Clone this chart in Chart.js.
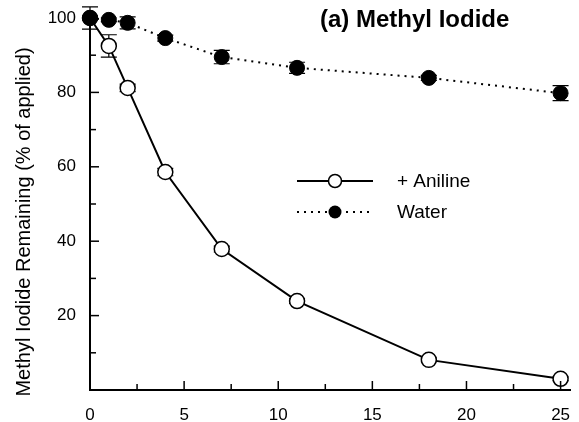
<!DOCTYPE html>
<html>
<head>
<meta charset="utf-8">
<script src="https://cdn.jsdelivr.net/npm/chart.js@4/dist/chart.umd.min.js"></script>
<style>
  html, body { margin: 0; padding: 0; background: #fff; }
  #wrap { width: 579px; height: 422px; position: relative; }
</style>
</head>
<body>
<div id="wrap"><canvas id="chart"></canvas></div>
<script>
// days after application
var days = [0, 1, 2, 4, 7, 11, 18, 25];
// % of applied remaining
var aniline = [100, 92.5, 81.2, 58.6, 37.9, 23.9, 8.1, 3.0];
var water = [100, 99.5, 98.7, 94.6, 89.5, 86.6, 83.9, 79.8];
// error bar half widths
var anilineErr = [3, 3, 1, 1, 0.8, 0.6, 0.5, 0.5];
var waterErr = [0.5, 0.5, 1.6, 0.8, 1.8, 1.5, 0.7, 2];
var xLabels = [0, 5, 10, 15, 20, 25];
var yLabels = [20, 40, 60, 80, 100];

var FONT = "'Liberation Sans', Arial, sans-serif";

function pts(ys) {
  return days.map(function(d, i) { return {x: d, y: ys[i]}; });
}

// error bars, inward ticks, legend, titles
var extras = {
  id: 'extras',
  beforeDatasetsDraw: function(chart) {
    var ctx = chart.ctx, xs = chart.scales.x, ys = chart.scales.y;
    ctx.save();
    ctx.strokeStyle = '#000';
    ctx.lineWidth = 1.2;
    function bars(vals, errs) {
      vals.forEach(function(v, i) {
        var px = xs.getPixelForValue(days[i]);
        var hi = ys.getPixelForValue(v + errs[i]);
        var lo = ys.getPixelForValue(v - errs[i]);
        ctx.beginPath();
        ctx.moveTo(px, hi); ctx.lineTo(px, lo);
        ctx.moveTo(px - 8, hi); ctx.lineTo(px + 8, hi);
        ctx.moveTo(px - 8, lo); ctx.lineTo(px + 8, lo);
        ctx.stroke();
      });
    }
    bars(aniline, anilineErr);
    bars(water, waterErr);
    ctx.restore();
  },
  afterDraw: function(chart) {
    var ctx = chart.ctx, xs = chart.scales.x, ys = chart.scales.y;
    ctx.save();
    ctx.strokeStyle = '#000';
    ctx.lineWidth = 1.5;
    // ticks pointing into the plot
    var bottom = ys.getPixelForValue(0), left = xs.getPixelForValue(0);
    for (var v = 2.5; v <= 25; v += 2.5) {
      var px = xs.getPixelForValue(v);
      var len = (v % 5 === 0) ? 9 : 6;
      ctx.beginPath(); ctx.moveTo(px, bottom); ctx.lineTo(px, bottom - len); ctx.stroke();
    }
    for (var w = 10; w <= 90; w += 10) {
      var py = ys.getPixelForValue(w);
      var l2 = (w % 20 === 0) ? 9 : 6;
      ctx.beginPath(); ctx.moveTo(left, py); ctx.lineTo(left + l2, py); ctx.stroke();
    }
    // y axis title
    ctx.fillStyle = '#000';
    ctx.save();
    ctx.translate(24, 222);
    ctx.rotate(-Math.PI / 2);
    ctx.font = '20px ' + FONT;
    ctx.textAlign = 'center';
    ctx.textBaseline = 'middle';
    ctx.fillText('Methyl Iodide Remaining (% of applied)', 0, 0);
    ctx.restore();
    // panel title
    ctx.font = 'bold 24px ' + FONT;
    ctx.textBaseline = 'middle';
    ctx.textAlign = 'left';
    ctx.fillText('(a) Methyl Iodide', 320, 20);
    // legend
    ctx.lineWidth = 2;
    ctx.beginPath(); ctx.moveTo(297, 181); ctx.lineTo(373, 181); ctx.stroke();
    ctx.beginPath(); ctx.arc(335, 181, 6.5, 0, Math.PI * 2);
    ctx.fillStyle = '#fff'; ctx.fill();
    ctx.lineWidth = 1.5; ctx.stroke();
    ctx.setLineDash([2, 5]);
    ctx.lineWidth = 2;
    ctx.beginPath(); ctx.moveTo(297, 212); ctx.lineTo(373, 212); ctx.stroke();
    ctx.setLineDash([]);
    ctx.beginPath(); ctx.arc(335, 212, 6.5, 0, Math.PI * 2);
    ctx.fillStyle = '#000'; ctx.fill();
    ctx.font = '19px ' + FONT;
    ctx.fillText('+ Aniline', 397, 182);
    ctx.fillText('Water', 397, 213);
    ctx.restore();
  }
};

new Chart(document.getElementById('chart'), {
  type: 'scatter',
  data: {
    datasets: [{
      label: 'Water',
      data: pts(water),
      showLine: true,
      borderColor: '#000',
      borderWidth: 2,
      borderDash: [2, 5],
      pointRadius: 7.5,
      pointBorderWidth: 1,
      pointBackgroundColor: '#000',
      pointBorderColor: '#000',
      clip: false
    }, {
      label: '+ Aniline',
      data: pts(aniline),
      showLine: true,
      borderColor: '#000',
      borderWidth: 2,
      pointRadius: 7.5,
      pointBorderWidth: 1.5,
      pointBackgroundColor: '#fff',
      pointBorderColor: '#000',
      clip: false
    }]
  },
  options: {
    responsive: true,
    maintainAspectRatio: false,
    animation: false,
    layout: { padding: { top: 18, right: 2, left: 0, bottom: 0 } },
    plugins: { legend: { display: false }, tooltip: { enabled: false } },
    scales: {
      x: {
        type: 'linear',
        min: 0, max: 25.5,
        grid: { display: false },
        border: { display: true, color: '#000', width: 2 },
        afterFit: function(s) {
          s.height = 32;
          s.paddingLeft = 0; s.paddingRight = 0;
        },
        afterBuildTicks: function(s) {
          s.ticks = xLabels.map(function(v) { return {value: v}; });
        },
        ticks: {
          color: '#000', padding: 7, maxRotation: 0,
          font: { family: FONT, size: 17 }
        }
      },
      y: {
        type: 'linear',
        min: 0, max: 100,
        grid: { display: false },
        border: { display: true, color: '#000', width: 2 },
        afterFit: function(s) {
          s.width = 90;
          s.paddingTop = 0; s.paddingBottom = 0;
        },
        afterBuildTicks: function(s) {
          s.ticks = yLabels.map(function(v) { return {value: v}; });
        },
        ticks: {
          color: '#000', padding: 6,
          font: { family: FONT, size: 17 }
        }
      }
    }
  },
  plugins: [extras]
});
</script>
</body>
</html>
